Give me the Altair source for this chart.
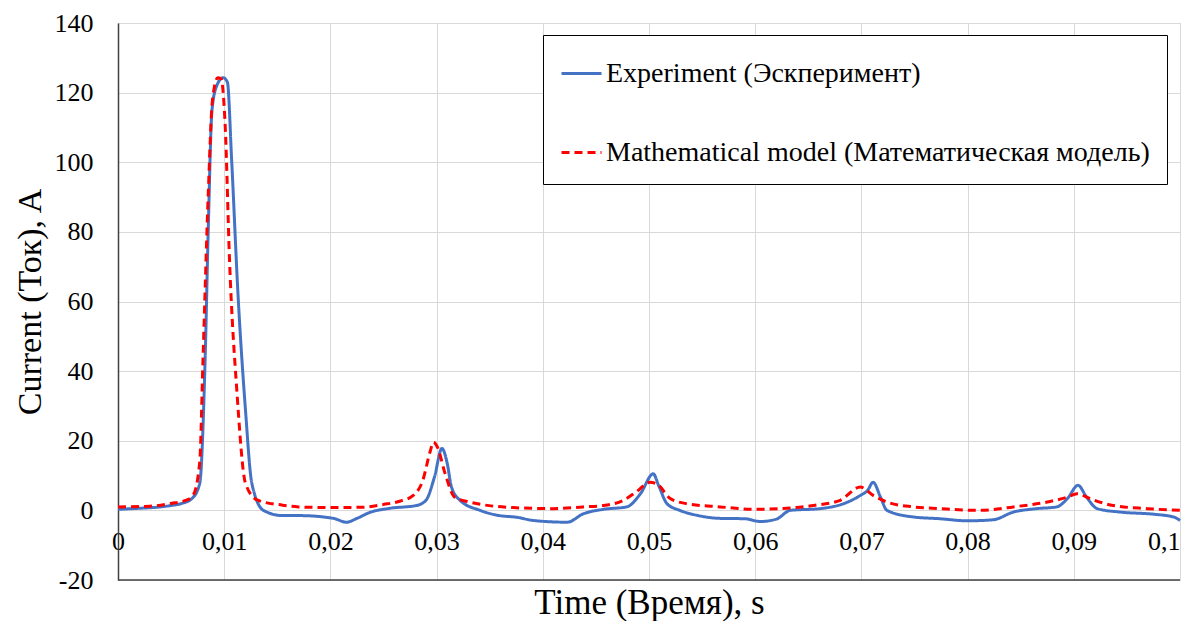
import altair as alt
import pandas as pd

EXP = "Experiment (Эскперимент)"
MOD = "Mathematical model (Математическая модель)"

exp_t = [0, 0.002, 0.004, 0.005, 0.006, 0.007, 0.0077, 0.0082, 0.0085, 0.00885, 0.0093, 0.0099,
         0.0103, 0.0107, 0.0113, 0.012, 0.0126, 0.0137, 0.0155, 0.0171, 0.0203, 0.0215, 0.0225,
         0.0237, 0.0256, 0.0281, 0.029, 0.0298, 0.0305, 0.031, 0.0314, 0.0322, 0.0341, 0.0357,
         0.0376, 0.0391, 0.0423, 0.0438, 0.0457, 0.0479, 0.0492, 0.0504, 0.0509, 0.0517, 0.0529,
         0.0545, 0.0567, 0.059, 0.0605, 0.062, 0.0633, 0.0661, 0.0683, 0.0699, 0.0706, 0.0711,
         0.0718, 0.0724, 0.0749, 0.0774, 0.08, 0.0824, 0.0843, 0.0865, 0.0884, 0.0894, 0.0904,
         0.0912, 0.0922, 0.0944, 0.0975, 0.0994, 0.1]
exp_v = [0.3, 0.6, 1.0, 1.4, 2.0, 3.5, 7.8, 43, 81, 115, 122, 124.3,
         123, 100.7, 62, 29, 7.8, 0, -1.5, -1.5, -2.3, -3.4, -2.3,
         -0.6, 0.6, 1.4, 2.9, 9.6, 17.8, 13.5, 6.7, 2.9, 0, -1.4,
         -2.0, -2.9, -3.4, -1.0, 0.3, 1.0, 4.8, 10.5, 7.2, 1.9, 0,
         -1.4, -2.3, -2.4, -3.2, -2.5, 0, 0.5, 1.9, 4.3, 5.8, 8.1,
         3.8, 0, -1.9, -2.4, -3.0, -2.7, -0.5, 0.5, 1.0, 3.4, 7.2,
         3.8, 0.5, -0.5, -1.1, -1.9, -2.9]

mod_t = [0, 0.003, 0.005, 0.0065, 0.0071, 0.0077, 0.008, 0.0085, 0.0089, 0.0094, 0.0097, 0.0101,
         0.0105, 0.0112, 0.012, 0.0131, 0.0155, 0.017, 0.02, 0.023, 0.025, 0.0266, 0.0278, 0.0287,
         0.0294, 0.0297, 0.0301, 0.0308, 0.0317, 0.0331, 0.0372, 0.041, 0.0438, 0.0457, 0.0476,
         0.0488, 0.0501, 0.0509, 0.052, 0.0536, 0.0567, 0.06, 0.0623, 0.0655, 0.068, 0.0699, 0.0711,
         0.0724, 0.0749, 0.0774, 0.0812, 0.0843, 0.0875, 0.0894, 0.0903, 0.0915, 0.0937, 0.0969, 0.1]
mod_v = [1.0, 1.2, 2.0, 3.0, 4.5, 14, 43, 91, 118, 124.3, 124, 110,
         72, 34, 7.8, 3, 1.5, 1.0, 0.8, 0.9, 1.7, 2.7, 4.3, 8.6,
         17, 19.6, 18, 10.6, 3.8, 2.4, 0.8, 0.5, 1.0, 1.4, 2.9,
         5.3, 8.1, 7.2, 3.4, 1.9, 1.0, 0.3, 0.5, 1.4, 2.9, 6.7, 4.3,
         2.4, 1.0, 0.5, 0, 1.0, 2.4, 3.8, 4.8, 3.4, 1.4, 0.5, 0]

df = pd.concat([
    pd.DataFrame({"t": exp_t, "v": exp_v, "s": EXP, "o": 0}),
    pd.DataFrame({"t": mod_t, "v": mod_v, "s": MOD, "o": 1}),
])

FONT = "'Liberation Serif', 'Times New Roman', 'DejaVu Serif', serif"
series = [EXP, MOD]
leg = alt.Legend(
    title=None, orient="none", legendX=425, legendY=12,
    strokeColor="#000", fillColor="#fff", padding=17,
    symbolType="stroke", symbolSize=1600, symbolStrokeWidth=3,
    labelFont=FONT, labelFontSize=28, labelColor="#000", labelLimit=800,
    rowPadding=43, labelOffset=3,
)

lines = alt.Chart(df).mark_line(strokeWidth=3, interpolate="monotone").encode(
    x=alt.X("t:Q", scale=alt.Scale(domain=[0, 0.1], nice=False),
            axis=alt.Axis(values=[i / 100 for i in range(11)], offset=-70, domain=False, ticks=False,
                          labelExpr="replace(format(datum.value, '.2~f'), '.', ',')",
                          labelFlush=False,
                          labelAlign={"condition": {"test": "datum.value >= 0.1", "value": "right"},
                                      "value": "center"},
                          labelFont=FONT, labelFontSize=26, labelColor="#000", labelPadding=18,
                          grid=True, gridColor="#d9d9d9",
                          title="Time (Время), s", titleFont=FONT, titleFontSize=35,
                          titleFontWeight="normal", titleColor="#000", titlePadding=31)),
    y=alt.Y("v:Q", scale=alt.Scale(domain=[-20, 140], nice=False),
            axis=alt.Axis(values=list(range(-20, 141, 20)), ticks=False, domain=True,
                          domainColor="#404040", domainWidth=1.5,
                          labelExpr="replace(datum.label, '−', '-')",
                          labelFont=FONT, labelFontSize=26, labelColor="#000", labelPadding=25,
                          grid=True, gridColor="#d9d9d9",
                          title="Current (Ток), A", titleFont=FONT, titleFontSize=34,
                          titleFontWeight="normal", titleColor="#000", titlePadding=7)),
    color=alt.Color("s:N", scale=alt.Scale(domain=series, range=["#4472C4", "#FF0000"]), legend=leg),
    strokeDash=alt.StrokeDash("s:N", scale=alt.Scale(domain=series, range=[[1, 0], [8, 5]]), legend=leg),
    order="o:Q",
)

base = alt.Chart(pd.DataFrame({"y": [-20]})).mark_rule(color="#404040", strokeWidth=1.5).encode(
    y=alt.Y("y:Q", scale=alt.Scale(domain=[-20, 140], nice=False))
)

chart = alt.layer(lines, base).properties(
    width=1062, height=557,
    autosize=alt.AutoSizeParams(type="none"),
    padding={"left": 110, "top": 15, "right": 10, "bottom": 41},
).configure_view(stroke=None).configure(background="white", font=FONT)

chart.save("out.html", embed_options={"renderer": "svg", "actions": False})
